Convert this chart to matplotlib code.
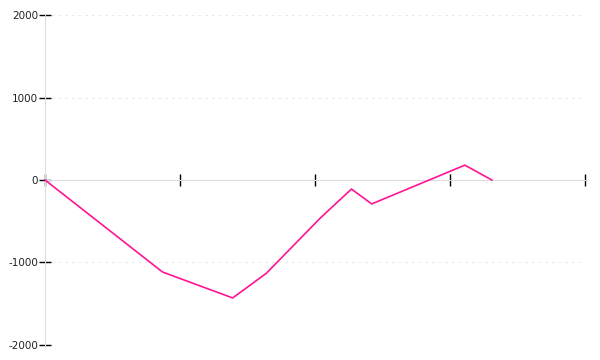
import numpy as np
import matplotlib.pyplot as plt

plt.rcParams['axes.unicode_minus'] = False

# data (x in tick units, 0..4)
x_vals = [0, 0.57, 0.87, 1.39, 1.64, 2.04, 2.27, 2.42, 3.11, 3.31]
y_vals = [0, -730, -1115, -1430, -1130, -460, -110, -290, 180, 0]
y_ticks = [-2000, -1000, 0, 1000, 2000]
x_ticks = [0, 1, 2, 3, 4]

fig = plt.figure(figsize=(6, 3.6), dpi=100)
ax = fig.add_axes([0.075, 0.0417, 0.9, 0.9166])

ax.plot(x_vals, y_vals, color='#ff1493', linewidth=1.2, zorder=5, clip_on=False)

ax.set_xlim(0, 4)
ax.set_ylim(-2000, 2000)

# horizontal dotted grid
for yv in y_ticks:
    if yv != 0:
        ax.axhline(yv, color='#e6e6e6', linestyle=(0, (2, 4)), linewidth=0.8, zorder=0)

ax.spines['top'].set_visible(False)
ax.spines['right'].set_visible(False)
ax.spines['left'].set_color('#dddddd')
ax.spines['bottom'].set_position(('data', 0))
ax.spines['bottom'].set_color('#dddddd')

ax.set_xticks(x_ticks)
ax.set_xticklabels([])
ax.tick_params(axis='x', direction='inout', length=8, width=1, color='black')

ax.set_yticks(y_ticks)
ax.tick_params(axis='y', direction='inout', length=8, width=1, color='black',
               labelsize=7.5, labelcolor='#222222', pad=1)

fig.savefig('out.png', dpi=100)
